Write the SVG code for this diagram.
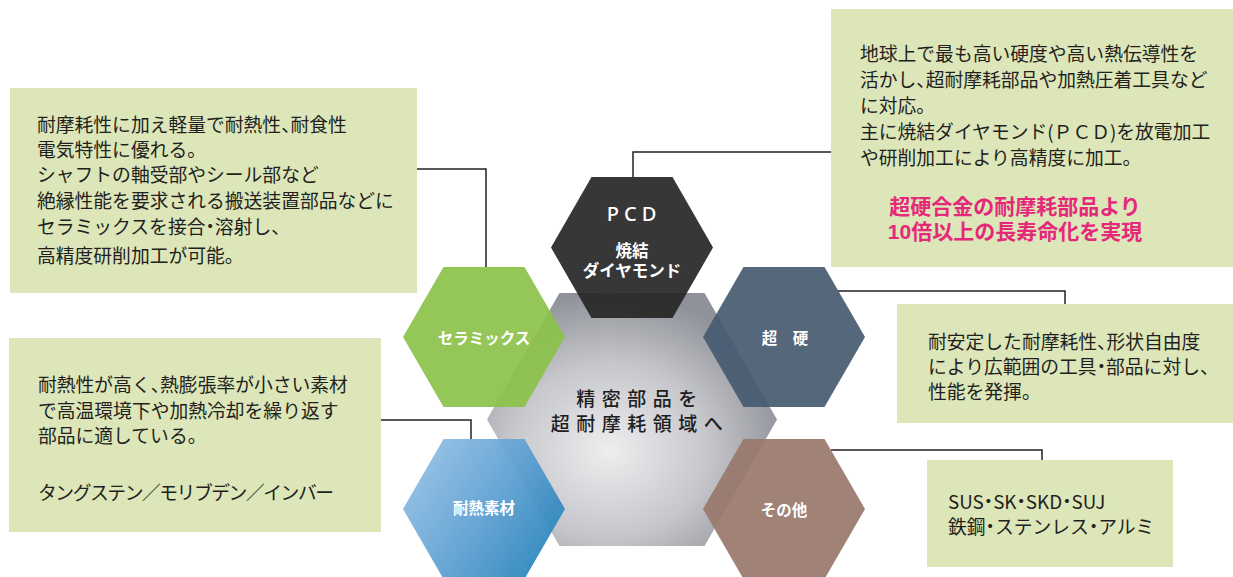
<svg xmlns="http://www.w3.org/2000/svg" width="1233" height="577" viewBox="0 0 1233 577">
<style>
.box{fill:#dce6b9}
.t{font-family:"Noto Sans CJK JP","Noto Sans",sans-serif;font-size:18.8px;fill:#231f20;dominant-baseline:central}
.h{font-feature-settings:"halt"}
.pink{font-family:"Liberation Sans","Noto Sans CJK JP",sans-serif;font-size:21px;font-weight:bold;fill:#e5287a;dominant-baseline:central;text-anchor:middle}
.hl{font-family:"Noto Sans CJK JP","Noto Sans",sans-serif;font-size:15.5px;font-weight:bold;fill:#ffffff;dominant-baseline:central;text-anchor:middle}
.hp{font-family:"Liberation Sans","Noto Sans CJK JP",sans-serif;font-size:16.5px}
.ct{font-family:"Noto Sans CJK JP","Noto Sans",sans-serif;font-size:19px;font-weight:500;fill:#1e1e1e;dominant-baseline:central;text-anchor:middle;letter-spacing:6.5px}
.conn{fill:none;stroke:#231f20;stroke-width:1.5}
.hx{opacity:0.92}
</style>
<defs>
<radialGradient id="gc" cx="0.42" cy="0.62" r="0.62">
<stop offset="0" stop-color="#eeeef0"/>
<stop offset="0.55" stop-color="#c6c7cb"/>
<stop offset="1" stop-color="#8f9299"/>
</radialGradient>
<linearGradient id="gb" x1="0" y1="0.2" x2="1" y2="0.8">
<stop offset="0" stop-color="#93bfe4"/>
<stop offset="0.5" stop-color="#5c9fd2"/>
<stop offset="1" stop-color="#1f7fb9"/>
</linearGradient>
</defs>

<g id="box-pcd">
<rect class="box" x="831" y="9" width="402" height="258"/>
<text class="t">
<tspan x="860" y="52">地球上で最も高い硬度や高い熱伝導性を</tspan>
<tspan x="860" y="78">活かし<tspan class="h">、</tspan>超耐摩耗部品や加熱圧着工具など</tspan>
<tspan x="860" y="104">に対応。</tspan>
<tspan x="860" y="130">主に焼結ダイヤモンド(ＰＣＤ)を放電加工</tspan>
<tspan x="860" y="156">や研削加工により高精度に加工。</tspan>
</text>
<text class="pink"><tspan x="1015" y="205.5">超硬合金の耐摩耗部品より</tspan><tspan x="1015" y="230.5">10倍以上の長寿命化を実現</tspan></text>
</g>

<g id="box-ceramics">
<rect class="box" x="10" y="88" width="407" height="205"/>
<text class="t">
<tspan x="37" y="123">耐摩耗性に加え軽量で耐熱性<tspan class="h">、</tspan>耐食性</tspan>
<tspan x="37" y="148">電気特性に優れる。</tspan>
<tspan x="37" y="173">シャフトの軸受部やシール部など</tspan>
<tspan x="37" y="199">絶縁性能を要求される搬送装置部品などに</tspan>
<tspan x="37" y="225">セラミックスを接合<tspan class="h">・</tspan>溶射し<tspan class="h">、</tspan></tspan>
<tspan x="37" y="254">高精度研削加工が可能。</tspan>
</text>
</g>

<g id="box-heat">
<rect class="box" x="9" y="338" width="372" height="194"/>
<text class="t">
<tspan x="38" y="383">耐熱性が高く<tspan class="h">、</tspan>熱膨張率が小さい素材</tspan>
<tspan x="38" y="409">で高温環境下や加熱冷却を繰り返す</tspan>
<tspan x="38" y="434">部品に適している。</tspan>
</text>
<text class="t" x="38" y="491" textLength="296" lengthAdjust="spacing">タングステン／モリブデン／インバー</text>
</g>

<g id="box-carbide">
<rect class="box" x="897" y="304" width="336" height="119"/>
<text class="t">
<tspan x="928" y="340">耐安定した耐摩耗性<tspan class="h">、</tspan>形状自由度</tspan>
<tspan x="928" y="365">により広範囲の工具<tspan class="h">・</tspan>部品に対し<tspan class="h">、</tspan></tspan>
<tspan x="928" y="390">性能を発揮。</tspan>
</text>
</g>

<g id="box-other">
<rect class="box" x="927" y="460" width="246" height="107"/>
<text class="t">
<tspan x="948" y="500">SUS<tspan class="h">・</tspan>SK<tspan class="h">・</tspan>SKD<tspan class="h">・</tspan>SUJ</tspan>
<tspan x="948" y="525">鉄鋼<tspan class="h">・</tspan>ステンレス<tspan class="h">・</tspan>アルミ</tspan>
</text>
</g>

<g id="connectors">
<path class="conn" d="M831,152 H633 V177"/>
<path class="conn" d="M417,169 H486 V267"/>
<path class="conn" d="M838,291 H1065 V304"/>
<path class="conn" d="M831,450 H1042 V460"/>
<path class="conn" d="M381,420 H471 V439"/>
</g>

<g id="center">
<polygon points="487,419.5 559.5,293 704.5,293 777,419.5 704.5,546 559.5,546" fill="url(#gc)"/>
</g>

<g id="hex-pcd">
<polygon class="hx" points="551,247.5 591.5,177 672.5,177 713,247.5 672.5,318 591.5,318" fill="#262626"/>
<text x="634" y="213" font-family="'Noto Sans','Noto Sans CJK JP',sans-serif" font-size="20" font-weight="500" fill="#ffffff" dominant-baseline="central" text-anchor="middle" letter-spacing="5">PCD</text>
<text class="hl hp"><tspan x="632" y="250.5">焼結</tspan><tspan x="632" y="270.5">ダイヤモンド</tspan></text>
</g>

<g id="hex-ceramics">
<polygon class="hx" points="403,337 443.5,267 524.5,267 565,337 524.5,407 443.5,407" fill="#8cc14a"/>
<text class="hl" x="484" y="337">セラミックス</text>
</g>

<g id="hex-carbide">
<polygon class="hx" points="703,337 743.5,267 824.5,267 865,337 824.5,407 743.5,407" fill="#475a70"/>
<text class="hl" x="785" y="337">超　硬</text>
</g>

<g id="hex-other">
<polygon class="hx" points="703,509 743.5,439 824.5,439 865,509 824.5,579 743.5,579" fill="#98776b"/>
<text class="hl" x="784" y="509">その他</text>
</g>

<g id="hex-heat">
<polygon class="hx" points="403,509 443.5,439 524.5,439 565,509 524.5,579 443.5,579" fill="url(#gb)"/>
<text class="hl" x="484" y="507">耐熱素材</text>
</g>

<g id="center-text">
<text class="ct"><tspan x="640" y="397">精密部品を</tspan><tspan x="640" y="422">超耐摩耗領域へ</tspan></text>
</g>
</svg>
